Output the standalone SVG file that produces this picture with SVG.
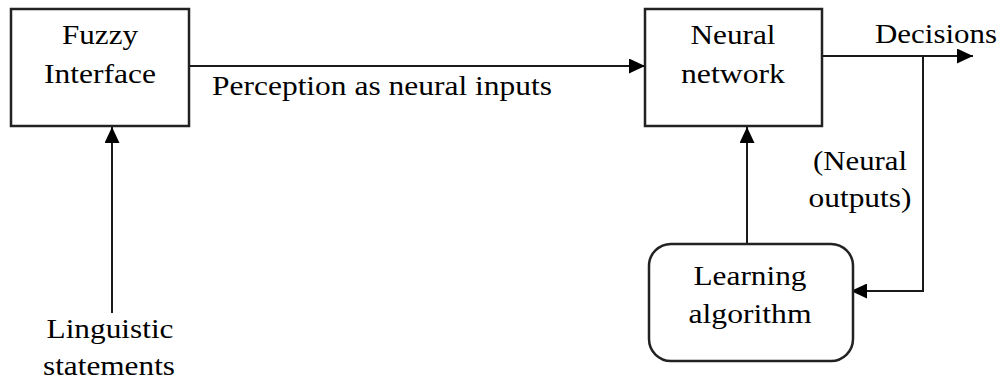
<svg xmlns="http://www.w3.org/2000/svg" width="1001" height="381" viewBox="0 0 1001 381">
<style>
.box{fill:#fff;stroke:#222;stroke-width:2.5}
.ln{fill:none;stroke:#1a1a1a;stroke-width:2}
text{fill:#000;text-anchor:middle}
</style>
<defs>
<marker id="ah" markerUnits="userSpaceOnUse" markerWidth="16" markerHeight="15" refX="16" refY="7.5" orient="auto">
<path d="M0,0 L16,7.5 L0,15 Z" fill="#000"/>
</marker>
</defs>
<rect width="1001" height="381" fill="#fff"/>
<g id="connectors">
<line class="ln" x1="190" y1="66" x2="645" y2="66" marker-end="url(#ah)"/>
<line class="ln" x1="112" y1="313" x2="112" y2="127" marker-end="url(#ah)"/>
<line class="ln" x1="747" y1="244" x2="747" y2="127" marker-end="url(#ah)"/>
<line class="ln" x1="822" y1="56" x2="973" y2="56" marker-end="url(#ah)"/>
<polyline class="ln" points="923,56 923,291 851,291" marker-end="url(#ah)"/>
</g>
<g font-family="Liberation Serif, Times New Roman, serif" font-size="27.5">
<g id="fuzzy">
<rect class="box" x="11" y="9" width="178" height="117"/>
<text x="100" y="44" textLength="76" lengthAdjust="spacingAndGlyphs">Fuzzy</text>
<text x="100" y="83" textLength="112" lengthAdjust="spacingAndGlyphs">Interface</text>
</g>
<g id="neural">
<rect class="box" x="645" y="9" width="177" height="117"/>
<text x="733" y="44" textLength="85" lengthAdjust="spacingAndGlyphs">Neural</text>
<text x="733" y="83" textLength="104" lengthAdjust="spacingAndGlyphs">network</text>
</g>
<g id="learning">
<rect class="box" x="649" y="244" width="204" height="117" rx="22" ry="22"/>
<text x="750" y="285" textLength="113" lengthAdjust="spacingAndGlyphs">Learning</text>
<text x="750" y="323" textLength="123" lengthAdjust="spacingAndGlyphs">algorithm</text>
</g>
<g id="labels">
<text x="382" y="95" textLength="340" lengthAdjust="spacingAndGlyphs">Perception as neural inputs</text>
<text x="936" y="43" textLength="122" lengthAdjust="spacingAndGlyphs">Decisions</text>
<text x="860" y="170" textLength="94" lengthAdjust="spacingAndGlyphs">(Neural</text>
<text x="860" y="207" textLength="103" lengthAdjust="spacingAndGlyphs">outputs)</text>
<text x="110" y="338" textLength="127" lengthAdjust="spacingAndGlyphs">Linguistic</text>
<text x="109" y="375" textLength="132" lengthAdjust="spacingAndGlyphs">statements</text>
</g>
</g>
</svg>
